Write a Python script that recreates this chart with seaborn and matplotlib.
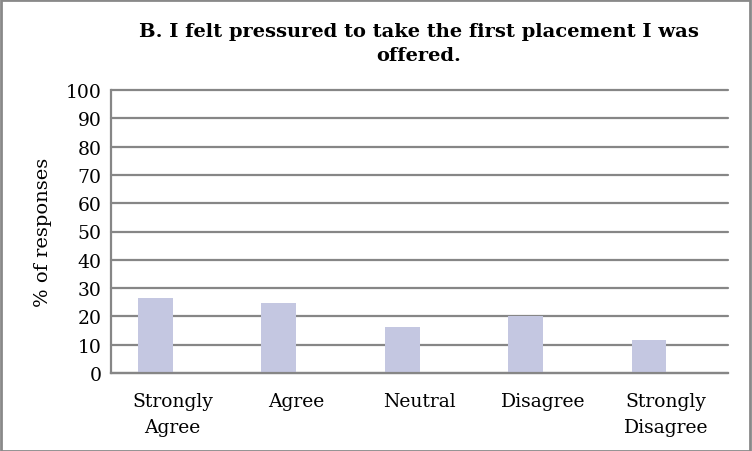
import matplotlib
matplotlib.use("Agg")
import matplotlib.pyplot as plt
import seaborn as sns
import pandas as pd
from matplotlib.patches import Rectangle

categories = ["Strongly\nAgree", "Agree", "Neutral", "Disagree", "Strongly\nDisagree"]
values = [26.5, 24.7, 16.3, 20.2, 11.6]
second_series = [0, 0, 0, 0, 0]
yticks = list(range(0, 101, 10))

sns.set_theme(style="white")
plt.rcParams['font.family'] = ['DejaVu Serif']
plt.rcParams['text.color'] = 'black'
plt.rcParams['axes.labelcolor'] = 'black'
plt.rcParams['xtick.color'] = 'black'
plt.rcParams['ytick.color'] = 'black'

df = pd.DataFrame({
    "cat": categories * 2,
    "val": values + second_series,
    "series": ["A"] * 5 + ["B"] * 5,
})

fig = plt.figure(figsize=(7.52, 4.52), dpi=100)
ax = fig.add_axes([111/752, 1 - 374/452, 617/752, 283/452])

sns.barplot(data=df, x="cat", y="val", hue="series", palette=["#BFC3E6", "#FFFFFF"],
            width=0.562, gap=0, linewidth=0, legend=False, ax=ax, errorbar=None)

ax.set_ylim(0, 100)
ax.set_xlim(-0.5, 4.5)
ax.set_yticks(yticks)
ax.set_yticklabels([str(t) for t in yticks], fontsize=13.5)
ax.tick_params(axis='x', labelsize=13.5, length=0, pad=14)
ax.tick_params(axis='y', length=0, pad=7)
for lab in ax.get_xticklabels():
    lab.set_linespacing(1.55)
ax.yaxis.grid(True, color="#868686", linewidth=1.6)
for gl in ax.get_ygridlines():
    gl.set_clip_on(False)
ax.set_axisbelow(True)
for s in ["top", "right"]:
    ax.spines[s].set_visible(False)
for s in ["left", "bottom"]:
    ax.spines[s].set_color("#868686")
    ax.spines[s].set_linewidth(1.6)
ax.set_xlabel("")
ax.set_ylabel("% of responses", fontsize=14, labelpad=10)

fig.text(419/752, 1 - 44/452, "B. I felt pressured to take the first placement I was\noffered.",
         ha="center", va="center", fontsize=14, fontweight="bold", linespacing=1.4)

fig.patches.append(Rectangle((0.001, 0.001), 0.997, 0.996, transform=fig.transFigure,
                             fill=False, edgecolor="#898989", linewidth=2))

fig.savefig("out.png", dpi=100)
